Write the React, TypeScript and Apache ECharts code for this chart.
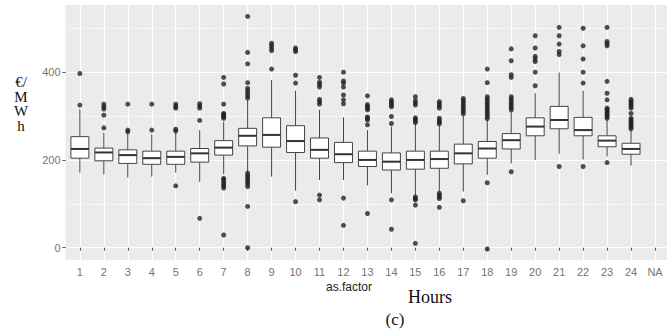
import React, { useEffect, useRef } from 'react';
import * as echarts from 'echarts';

const hours = ['1','2','3','4','5','6','7','8','9','10','11','12','13','14','15','16','17','18','19','20','21','22','23','24','NA'];

const lowerWhisker = [171,167,160,162,171,150,168,173,162,130,154,154,142,124,120,128,128,166,192,200,214,201,208,187];
const q1 = [204,198,192,190,190,195,211,232,229,217,204,194,185,177,179,181,191,204,225,255,271,255,230,213];
const median = [225,217,211,204,207,215,228,255,257,243,223,213,200,196,200,202,215,226,245,276,291,268,244,225];
const q3 = [253,227,223,220,220,226,244,272,296,278,250,240,220,216,220,220,236,242,260,296,322,297,255,238];
const upperWhisker = [315,262,260,258,262,268,287,337,382,358,314,297,268,276,282,278,300,290,310,352,399,358,291,268];

const outliers: number[][] = [
  [325, 397],
  [273, 302, 316, 321, 327],
  [264, 268, 327],
  [268, 327],
  [266, 270, 318, 322, 327, 141],
  [290, 318, 323, 328, 67],
  [295, 298, 301, 304, 306, 327, 373, 388, 136, 141, 145, 150, 155, 158, 29],
  [341, 346, 352, 358, 363, 376, 419, 445, 527, 139, 145, 150, 155, 160, 165, 170, 94, 0],
  [407, 449, 455, 461, 466],
  [375, 393, 447, 451, 455, 105],
  [327, 333, 338, 366, 372, 377, 388, 120, 109],
  [328, 337, 348, 366, 375, 380, 400, 113, 51],
  [280, 291, 295, 298, 314, 318, 322, 326, 346, 78],
  [283, 299, 321, 325, 329, 333, 337, 109, 42],
  [285, 289, 293, 296, 325, 330, 335, 344, 116, 112, 109, 97, 10],
  [282, 286, 290, 295, 318, 323, 328, 333, 112, 116, 120, 124, 92],
  [305, 310, 315, 320, 325, 330, 335, 340, 107],
  [294, 299, 304, 309, 314, 319, 324, 329, 334, 339, 344, 376, 407, 148, -3],
  [314, 319, 324, 329, 334, 339, 344, 388, 394, 426, 453, 173],
  [369, 400, 424, 430, 436, 455, 483],
  [440, 447, 464, 483, 502, 185],
  [375, 400, 430, 460, 500, 185],
  [295, 299, 303, 307, 311, 315, 318, 337, 352, 379, 460, 465, 470, 502, 194],
  [271, 275, 279, 283, 287, 291, 295, 306, 318, 322, 326, 330, 334, 338],
];

const majorTicks = [0, 200, 400];
const minorTicks = [100, 300, 500];

export default function App() {
  const ref = useRef<HTMLDivElement>(null);
  useEffect(() => {
    document.body.style.margin = '0';
    const chart = echarts.init(ref.current!, null, { renderer: 'svg' });
    const boxData = lowerWhisker.map((v, i) => [hours[i], v, q1[i], median[i], q3[i], upperWhisker[i]]);
    const outlierData: any[] = [];
    outliers.forEach((arr, i) => arr.forEach((v) => outlierData.push([hours[i], v])));
    const stroke = '#444';
    chart.setOption({
      animation: false,
      backgroundColor: '#ffffff',
      textStyle: { fontFamily: 'Liberation Sans' },
      grid: {
        left: 67.9, right: -5.9, top: 5, bottom: 73,
        show: true, backgroundColor: '#ebebeb', borderWidth: 0,
      },
      xAxis: {
        type: 'category',
        data: hours,
        boundaryGap: true,
        axisLine: { show: false },
        axisTick: { show: true, alignWithLabel: true, length: 3, lineStyle: { color: '#555' } },
        axisLabel: { color: '#747474', fontSize: 11, margin: 6, interval: 0 },
        splitLine: { show: true, alignWithLabel: true, lineStyle: { color: '#ffffff', width: 1.2 } },
      },
      yAxis: [
        {
          type: 'value', min: -28, max: 553, offset: 2.4,
          axisLine: { show: false },
          axisTick: { show: true, length: 3, customValues: majorTicks, lineStyle: { color: '#555' } },
          axisLabel: { customValues: majorTicks, color: '#747474', fontSize: 11, margin: 5 },
          splitLine: { show: true, lineStyle: { color: '#ffffff', width: 1.2 } },
        },
        {
          type: 'value', min: -28, max: 553, position: 'left',
          axisLine: { show: false },
          axisTick: { show: false, customValues: minorTicks },
          axisLabel: { show: false },
          splitLine: { show: true, lineStyle: { color: '#ffffff', width: 0.6 } },
        },
      ],
      graphic: [
        { type: 'rect', shape: { x: 65.5, y: 5, width: 2.6, height: 255 }, style: { fill: '#ebebeb' }, silent: true },
        { type: 'text', x: 21, y: 75, style: { text: '€/\nM\nW\nh', font: '15px "Liberation Serif"', fill: '#111', align: 'center', verticalAlign: 'top', lineHeight: 14.5 } },
        { type: 'text', x: 349, y: 287, style: { text: 'as.factor', font: '12px "Liberation Sans"', fill: '#222', align: 'center', verticalAlign: 'middle' } },
        { type: 'text', x: 430, y: 297, style: { text: 'Hours', font: '18px "Liberation Serif"', fill: '#111', align: 'center', verticalAlign: 'middle' } },
        { type: 'text', x: 395, y: 319, style: { text: '(c)', font: '17px "Liberation Serif"', fill: '#111', align: 'center', verticalAlign: 'middle' } },
      ],
      series: [
        {
          type: 'custom',
          data: boxData,
          encode: { x: 0, y: [1, 2, 3, 4, 5] },
          z: 3,
          renderItem: (params: any, api: any) => {
            const xi = api.value(0);
            const pMin = api.coord([xi, api.value(1)]);
            const pQ1 = api.coord([xi, api.value(2)]);
            const pMed = api.coord([xi, api.value(3)]);
            const pQ3 = api.coord([xi, api.value(4)]);
            const pMax = api.coord([xi, api.value(5)]);
            const cx = pMed[0];
            const hw = (api.size([1, 0])[0] * 0.75) / 2;
            return {
              type: 'group',
              children: [
                { type: 'line', shape: { x1: cx, y1: pMax[1], x2: cx, y2: pQ3[1] }, style: { stroke, lineWidth: 1 } },
                { type: 'line', shape: { x1: cx, y1: pQ1[1], x2: cx, y2: pMin[1] }, style: { stroke, lineWidth: 1 } },
                { type: 'rect', shape: { x: cx - hw, y: pQ3[1], width: hw * 2, height: pQ1[1] - pQ3[1] }, style: { fill: '#ffffff', stroke, lineWidth: 1 } },
                { type: 'line', shape: { x1: cx - hw, y1: pMed[1], x2: cx + hw, y2: pMed[1] }, style: { stroke: '#333', lineWidth: 2 } },
              ],
            };
          },
        },
        {
          type: 'scatter',
          data: outlierData,
          symbolSize: 5,
          itemStyle: { color: '#222' },
          emphasis: { disabled: true },
          z: 4,
        },
      ],
    });
    return () => chart.dispose();
  }, []);
  return <div ref={ref} style={{ width: 667, height: 333 }} />;
}
